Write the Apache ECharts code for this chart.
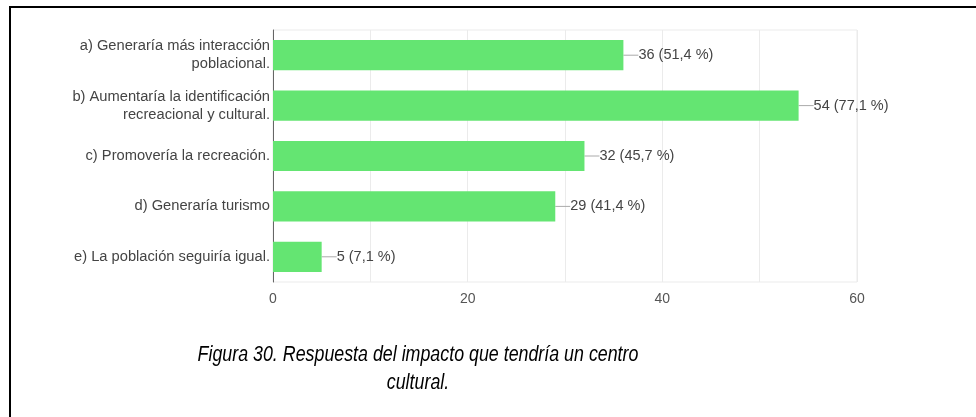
<!DOCTYPE html>
<html>
<head>
<meta charset="utf-8">
<script src="https://cdn.jsdelivr.net/npm/echarts@6/dist/echarts.min.js"></script>
<style>
html,body{margin:0;padding:0;background:#fff;}
#frame{position:absolute;left:9px;top:6px;width:967px;height:411px;border-top:2px solid #000;border-left:2px solid #000;box-sizing:border-box;}
#chart{position:absolute;left:0;top:0;width:976px;height:417px;}
</style>
</head>
<body>
<div id="frame"></div>
<div id="chart"></div>
<script>
const categories = [
  'a) Generaría más interacción\npoblacional.',
  'b) Aumentaría la identificación\nrecreacional y cultural.',
  'c) Promovería la recreación.',
  'd) Generaría turismo',
  'e) La población seguiría igual.'
];
const counts = [36, 54, 32, 29, 5];
const percents = ['51,4', '77,1', '45,7', '41,4', '7,1'];
const xTickLabels = [0, 20, 40, 60];
const captionLines = ['Figura 30. Respuesta del impacto que tendría un centro', 'cultural.'];

const FONT = 'Liberation Sans, Arial, sans-serif';
const chart = echarts.init(document.getElementById('chart'), null, {renderer: 'canvas'});
chart.setOption({
  animation: false,
  backgroundColor: 'transparent',
  graphic: captionLines.map((t, i) => ({
    type: 'text',
    x: 418,
    y: 355 + i * 28,
    scaleX: 0.81,
    style: {
      x: 0, y: 0,
      text: t,
      align: 'center',
      verticalAlign: 'middle',
      fill: '#000',
      font: 'italic 22px ' + FONT
    }
  })),
  grid: {
    left: 273, right: 119, top: 30, bottom: 135,
    show: true, borderColor: '#ebebeb', borderWidth: 1
  },
  xAxis: {
    type: 'value',
    min: 0, max: 60, interval: 10,
    axisLine: {show: false},
    axisTick: {show: false},
    splitLine: {show: true, lineStyle: {color: '#ebebeb', width: 1}},
    axisLabel: {
      margin: 10,
      color: '#555',
      fontSize: 14,
      fontFamily: FONT,
      formatter: v => xTickLabels.includes(v) ? String(v) : ''
    }
  },
  yAxis: {
    type: 'category',
    inverse: true,
    data: categories,
    axisLine: {show: true, lineStyle: {color: '#666', width: 1}},
    axisTick: {show: false},
    axisLabel: {
      margin: 3,
      color: '#444',
      fontSize: 14.7,
      lineHeight: 18,
      align: 'right',
      fontFamily: FONT
    }
  },
  series: [{
    type: 'bar',
    data: counts,
    barWidth: '60%',
    itemStyle: {color: '#64e572'},
    label: {
      show: true,
      position: 'right',
      distance: 0,
      color: '#444',
      fontSize: 14.5,
      fontFamily: FONT,
      formatter: p => p.value + ' (' + percents[p.dataIndex] + ' %)'
    },
    labelLayout: {dx: 15},
    labelLine: {show: true, lineStyle: {color: '#aaa', width: 1}}
  }]
});
</script>
</body>
</html>
